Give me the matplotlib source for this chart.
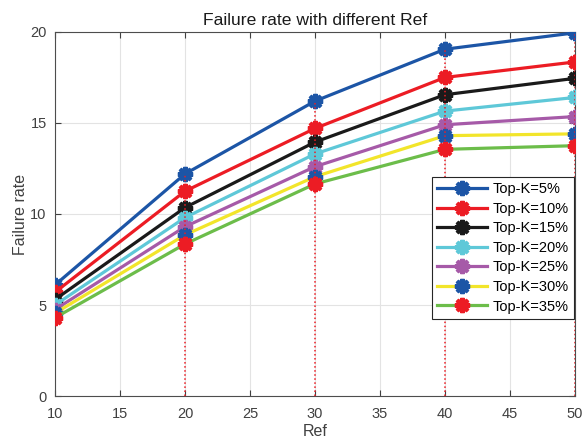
import matplotlib
matplotlib.use("Agg")
import matplotlib.pyplot as plt
import numpy as np

plt.rcParams['font.family'] = ['Liberation Sans', 'DejaVu Sans']

ref = [10, 20, 30, 40, 50]
labels = ["Top-K=5%", "Top-K=10%", "Top-K=15%", "Top-K=20%",
          "Top-K=25%", "Top-K=30%", "Top-K=35%"]
k5 = [6.1, 12.2, 16.2, 19.05, 19.95]
k10 = [5.7, 11.25, 14.7, 17.5, 18.35]
k15 = [5.3, 10.35, 13.95, 16.55, 17.45]
k20 = [5.0, 9.8, 13.3, 15.65, 16.4]
k25 = [4.75, 9.3, 12.6, 14.9, 15.35]
k30 = [4.55, 8.85, 12.05, 14.3, 14.4]
k35 = [4.3, 8.35, 11.65, 13.55, 13.75]
series = [k5, k10, k15, k20, k25, k30, k35]
stem_x = [20, 30, 40, 50]

line_colors = ['#1c55a6', '#ec1c24', '#1a1a1a', '#5ec8d8', '#a65aa8', '#f2e52a', '#6cbd4a']
marker_colors = ['#1c55a6', '#ec1c24', '#1a1a1a', '#5ec8d8', '#a65aa8', '#1c55a6', '#ec1c24']

fig = plt.figure(figsize=(5.85, 4.43), dpi=100)
ax = fig.add_axes([0.094, 0.106, 0.889, 0.822])

for ys, lab, lc, mc in zip(series, labels, line_colors, marker_colors):
    ax.plot(ref, ys, color=lc, linewidth=2.3, marker=(8, 2, 0), markersize=11,
            markeredgewidth=2.9, markeredgecolor=mc, markerfacecolor=mc,
            label=lab, zorder=3)

top = dict(zip(ref, k5))
for xv in stem_x:
    ax.plot([xv, xv], [0, top[xv]], color='#ec1c24', linestyle=':', linewidth=1.1, zorder=4)

ax.set_xlim(10, 50)
ax.set_ylim(0, 20)
ax.set_xticks(np.arange(10, 51, 5))
ax.set_yticks(np.arange(0, 21, 5))
ax.grid(True, color='#e3e3e3', linewidth=0.8)
ax.set_axisbelow(True)
for sp in ax.spines.values():
    sp.set_color('#4d4d4d')
    sp.set_linewidth(0.8)
ax.tick_params(direction='in', top=True, right=True, labelsize=10.5,
               colors='#404040', length=4, width=0.8)
ax.tick_params(axis='x', pad=8)
ax.tick_params(axis='y', pad=6)

ax.set_title("Failure rate with different Ref", fontsize=12.6, color='#1a1a1a', pad=5)
ax.set_xlabel("Ref", fontsize=11.5, color='#404040', labelpad=2)
ax.set_ylabel("Failure rate", fontsize=11.5, color='#404040', labelpad=2)

leg = ax.legend(loc='upper right', bbox_to_anchor=(0.998, 0.601), fontsize=10.5,
                frameon=True, fancybox=False, edgecolor='#262626', framealpha=1,
                handlelength=3.4, handletextpad=0.4, labelspacing=0.38,
                borderpad=0.35, borderaxespad=0)
leg.get_frame().set_linewidth(0.8)

fig.savefig("out.png", dpi=100)
